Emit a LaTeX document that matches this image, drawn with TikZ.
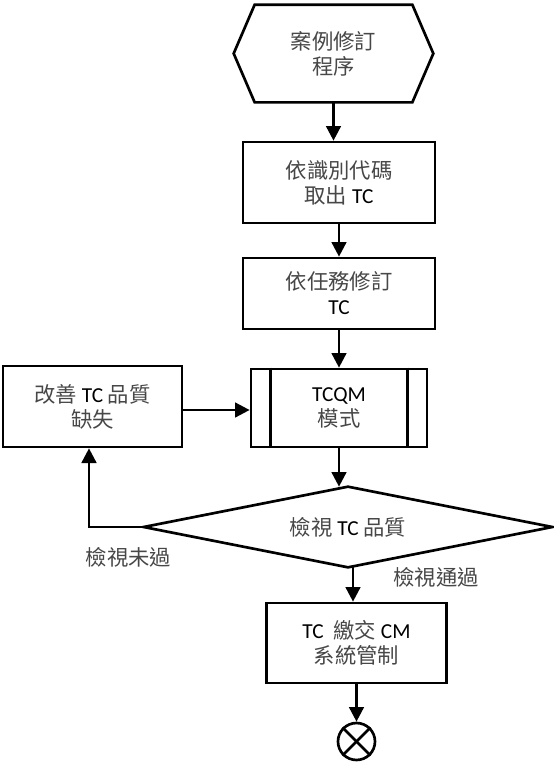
\documentclass[tikz,border=0pt]{standalone}
\usepackage{fontspec}
\setmainfont{Carlito}
\newfontfamily\cjk{Noto Sans CJK TC}
\usetikzlibrary{arrows.meta,shapes.geometric}
\newcommand{\zh}[1]{{\cjk\color{black!72}#1}}
\begin{document}
\begin{tikzpicture}[x=0.75pt,y=-0.75pt,line width=2pt,
  txt/.style={align=center,inner sep=0pt,font=\fontsize{16}{18.75}\selectfont,text=black},
  box/.style={txt,draw},
  arr/.style={-{Triangle[length=11pt,width=11pt]},line width=2pt}]
\useasboundingbox (0,0) rectangle (554,765);
% nodes
\node[txt,minimum width=147.75pt,minimum height=71.25pt] (h) at (333.5,53.5) {\zh{案例修訂}\\\zh{程序}};
\draw (h.west) -- ([xshift=15.75pt]h.north west) -- ([xshift=-15.75pt]h.north east) -- (h.east)
  -- ([xshift=-15.75pt]h.south east) -- ([xshift=15.75pt]h.south west) -- cycle;
\node[box,minimum width=144pt,minimum height=60.75pt] (b1) at (339,182.5) {\zh{依識別代碼}\\\zh{取出} TC};
\node[box,minimum width=144pt,minimum height=53.25pt] (b2) at (339,293.5) {\zh{依任務修訂}\\TC};
\node[box,minimum width=132pt,minimum height=58.5pt] (t) at (339,408) {TCQM\\\zh{模式}};
\draw ([xshift=15.75pt]t.north west) -- ([xshift=15.75pt]t.south west);
\draw ([xshift=-15.75pt]t.north east) -- ([xshift=-15.75pt]t.south east);
\node[box,minimum width=134.25pt,minimum height=60.75pt] (l) at (92.5,406.5) {\zh{改善} TC \zh{品質}\\\zh{缺失}};
\node[txt,minimum width=304.5pt,minimum height=58.5pt] (d) at (348,527) {\zh{檢視} TC \zh{品質}};
\draw (d.west) -- (d.north) -- (d.east) -- (d.south) -- cycle;
\node[box,minimum width=135pt,minimum height=60pt] (b4) at (356.5,643) {TC\ \ \zh{繳交} CM\\\zh{系統管制}};
\node[draw,circle,inner sep=0pt,minimum size=27.75pt] (e) at (356.5,741.5) {};
\draw (e.north west) -- (e.south east);
\draw (e.north east) -- (e.south west);
\node[txt] (lf) at (128.5,557) {\zh{檢視未過}};
\node[txt] (lp) at (436,577) {\zh{檢視通過}};
\coordinate (c) at (89,527);
% connectors
\draw[arr] (h.south) -- (h.south |- b1.north);
\draw[arr] (b1.south) -- (b2.north);
\draw[arr] (b2.south) -- (t.north);
\draw[arr] (t.south) -- (t.south |- d.north);
\draw[arr] ([xshift=3.75pt]d.south) -- ([xshift=3.75pt]d.south |- b4.north);
\draw[arr] (b4.south) -- (e.north);
\draw[arr] (l.east |- 0,410) -- (t.west |- 0,410);
\draw[arr] (d.west) -- (c) -- (c |- l.south);
\end{tikzpicture}
\end{document}
